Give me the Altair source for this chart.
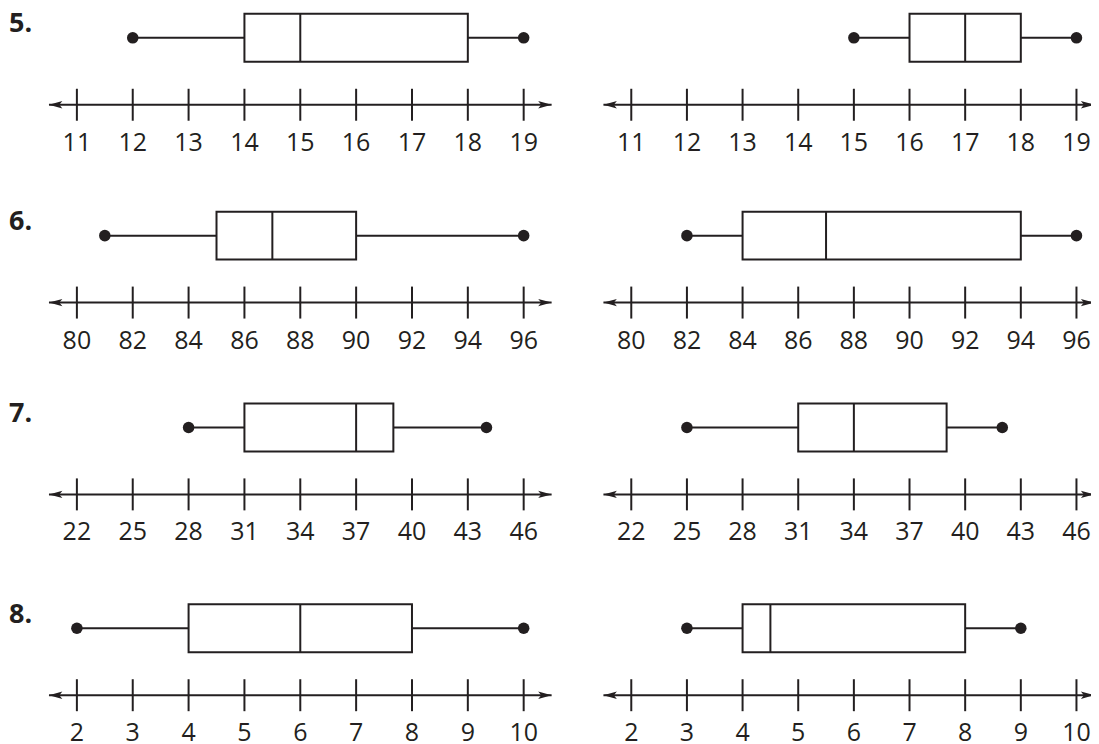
import math
import altair as alt
import pandas as pd

# ---- data ----
row_labels = ["5.", "6.", "7.", "8."]
axis_ticks = [
    [11, 12, 13, 14, 15, 16, 17, 18, 19],
    [80, 82, 84, 86, 88, 90, 92, 94, 96],
    [22, 25, 28, 31, 34, 37, 40, 43, 46],
    [2, 3, 4, 5, 6, 7, 8, 9, 10],
]
left_min = [12, 81, 28, 2]
left_q1 = [14, 85, 31, 4]
left_median = [15, 87, 37, 6]
left_q3 = [18, 90, 39, 8]
left_max = [19, 96, 44, 10]

right_min = [15, 82, 25, 3]
right_q1 = [16, 84, 31, 4]
right_median = [17, 87, 34, 4.5]
right_q3 = [18, 94, 39, 8]
right_max = [19, 96, 42, 9]

# ---- styling / layout ----
INK = "#231f20"
STEP_LEFT = 55.9    # pixels per tick interval, left column
STEP_RIGHT = 55.7   # pixels per tick interval, right column
H = 91              # box top -> number line
BOX_H = 48
TICK_HALF = 16
ROW_GAP = 10
COL_GAP = 51
ROW_HEIGHTS = [188, 182, 191, 91]   # row pitch minus gap
FONT = "Open Sans"
ARROW_SIZE = 180
ARROW_HALF = math.sqrt(ARROW_SIZE) / 2
ARROW_R = "M1,0L-1,-0.55L-0.55,0L-1,0.55Z"
ARROW_L = "M-1,0L1,-0.55L0.55,0L1,0.55Z"


def panel(ticks, mn, q1, med, q3, mx, right_ext, step_px, height, label=None):
    step = ticks[1] - ticks[0]
    lo = ticks[0] - 0.5 * step
    hi = ticks[-1] + right_ext * step
    width = (hi - lo) / step * step_px
    xs = alt.Scale(domain=[lo, hi], nice=False, zero=False)

    box = pd.DataFrame({"mn": [mn], "q1": [q1], "med": [med], "q3": [q3], "mx": [mx]})
    line = pd.DataFrame({"lo": [lo], "hi": [hi]})
    tdf = pd.DataFrame({"v": ticks})

    def X(f):
        return alt.X(f, scale=xs, axis=None)

    base = alt.Chart(box)
    whisk_lo = base.mark_rule(color=INK, strokeWidth=2).encode(
        x=X("mn:Q"), x2="q1:Q", y=alt.value(BOX_H / 2))
    whisk_hi = base.mark_rule(color=INK, strokeWidth=2).encode(
        x=X("q3:Q"), x2="mx:Q", y=alt.value(BOX_H / 2))
    rect = base.mark_rect(fill="white", stroke=INK, strokeWidth=2).encode(
        x=X("q1:Q"), x2="q3:Q", y=alt.value(0), y2=alt.value(BOX_H))
    median = base.mark_rule(color=INK, strokeWidth=2).encode(
        x=X("med:Q"), y=alt.value(0), y2=alt.value(BOX_H))
    dot_lo = base.mark_circle(size=133, color=INK, opacity=1).encode(
        x=X("mn:Q"), y=alt.value(BOX_H / 2))
    dot_hi = base.mark_circle(size=133, color=INK, opacity=1).encode(
        x=X("mx:Q"), y=alt.value(BOX_H / 2))

    lbase = alt.Chart(line)
    axis_line = lbase.mark_rule(color=INK, strokeWidth=2).encode(
        x=X("lo:Q"), x2="hi:Q", y=alt.value(H))
    arrow_l = lbase.mark_point(shape=ARROW_L, size=ARROW_SIZE, filled=True, color=INK,
                               opacity=1, strokeWidth=0, xOffset=ARROW_HALF).encode(
        x=X("lo:Q"), y=alt.value(H))
    arrow_r = lbase.mark_point(shape=ARROW_R, size=ARROW_SIZE, filled=True, color=INK,
                               opacity=1, strokeWidth=0, xOffset=-ARROW_HALF).encode(
        x=X("hi:Q"), y=alt.value(H))

    tbase = alt.Chart(tdf)
    tick_marks = tbase.mark_rule(color=INK, strokeWidth=2).encode(
        x=X("v:Q"), y=alt.value(H - TICK_HALF), y2=alt.value(H + TICK_HALF))
    tick_labels = tbase.mark_text(font=FONT, fontSize=25, color=INK,
                                  align="center", baseline="top").encode(
        x=X("v:Q"), y=alt.value(H + 26), text=alt.Text("v:Q", format="d"))

    layers = [whisk_lo, whisk_hi, rect, median, dot_lo, dot_hi,
              axis_line, tick_marks, tick_labels, arrow_l, arrow_r]
    if label is not None:
        txt = base.mark_text(font=FONT, fontWeight="bold", fontSize=27, color=INK,
                             align="left", baseline="top").encode(
            x=alt.value(-40), y=alt.value(-2.5), text=alt.value(label))
        layers.append(txt)
    return alt.layer(*layers).properties(width=width, height=height)


panels = []
for i in range(4):
    panels.append(panel(axis_ticks[i], left_min[i], left_q1[i], left_median[i],
                        left_q3[i], left_max[i], 0.5, STEP_LEFT, ROW_HEIGHTS[i],
                        row_labels[i]))
    panels.append(panel(axis_ticks[i], right_min[i], right_q1[i], right_median[i],
                        right_q3[i], right_max[i], 0.32, STEP_RIGHT, ROW_HEIGHTS[i]))

chart = alt.concat(*panels, columns=2, spacing={"row": ROW_GAP, "column": COL_GAP},
                   bounds="flush").properties(
    padding={"left": 0, "top": 1.5, "right": -5, "bottom": 0},
    background="white",
).configure_view(stroke="transparent")

chart.save("out.html", embed_options={"renderer": "svg", "actions": False})
